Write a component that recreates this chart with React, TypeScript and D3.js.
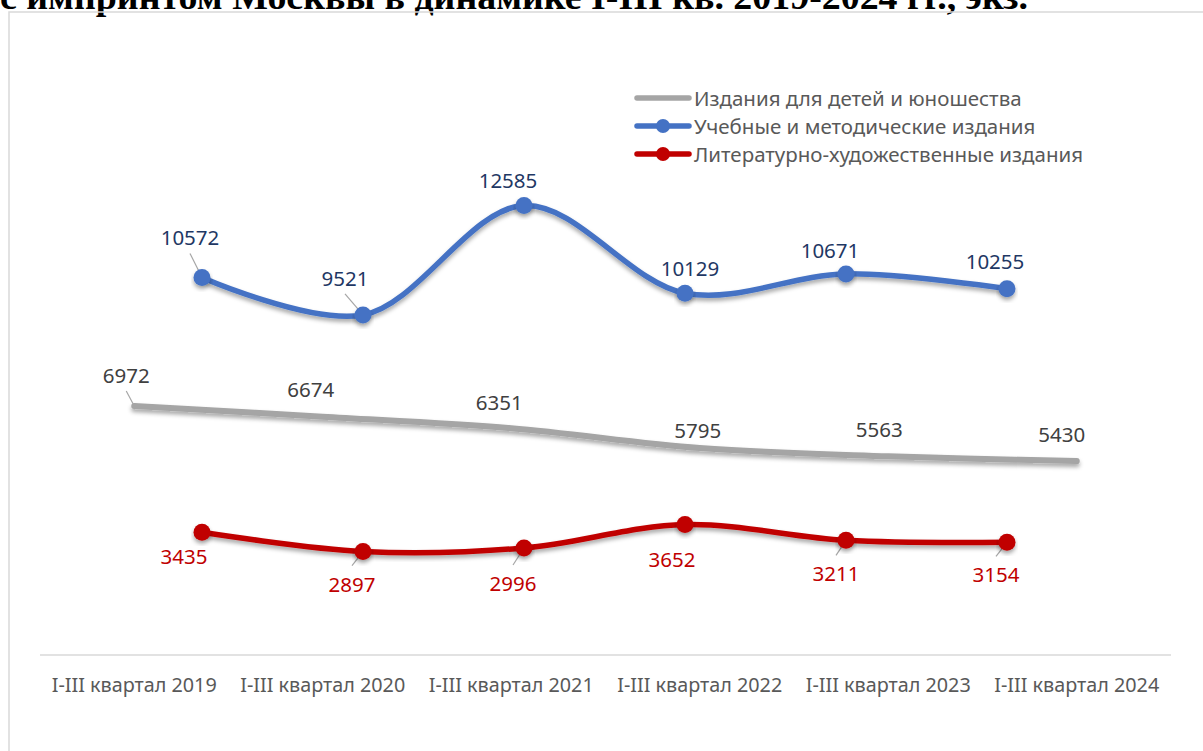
import React, { useEffect, useRef } from 'react';
import * as d3 from 'd3';

// categories and series
const categories = [
  'I-III квартал 2019',
  'I-III квартал 2020',
  'I-III квартал 2021',
  'I-III квартал 2022',
  'I-III квартал 2023',
  'I-III квартал 2024',
];
const childrenBooks = [6972, 6674, 6351, 5795, 5563, 5430];
const educationalBooks = [10572, 9521, 12585, 10129, 10671, 10255];
const fictionBooks = [3435, 2897, 2996, 3652, 3211, 3154];

const seriesNames = [
  'Издания для детей и юношества',
  'Учебные и методические издания',
  'Литературно-художественные издания',
];

const titleText = 'с импринтом Москвы в динамике I-III кв. 2019-2024 гг., экз.';

// label placement relative to its point: [dx, dy of baseline]
const childrenLabelOffsets = [[-8, -23], [-12, -20], [-12, -18], [-2, -10], [-9, -19], [-15, -19]];
const educationalLabelOffsets = [[-12, -32], [-18, -29], [-16, -18], [5, -17], [-16, -16], [-12, -20]];
const fictionLabelOffsets = [[-18, 32], [-11, 40], [-11, 43], [-13, 42], [-10, 41], [-11, 40]];
// which labels have a leader line
const childrenLeaders = [true, false, false, false, false, false];
const educationalLeaders = [true, true, false, false, false, false];
const fictionLeaders = [false, true, true, false, true, true];

export default function App() {
  const svgRef = useRef<SVGSVGElement | null>(null);

  useEffect(() => {
    const width = 1203;
    const height = 751;
    const font = "'Noto Sans', 'Open Sans', sans-serif";

    const svg = d3.select(svgRef.current).attr('width', width).attr('height', height);
    svg.selectAll('*').remove();

    const defs = svg.append('defs');
    defs.append('filter')
      .attr('id', 'shadow')
      .attr('x', '-10%').attr('y', '-30%').attr('width', '120%').attr('height', '160%')
      .append('feDropShadow')
      .attr('dx', 0).attr('dy', 3).attr('stdDeviation', 2)
      .attr('flood-color', '#000').attr('flood-opacity', 0.35);

    // title (cut by the top of the picture)
    svg.append('text')
      .attr('x', 0)
      .attr('y', 9)
      .attr('font-family', "'Liberation Serif', 'Times New Roman', serif")
      .attr('font-weight', 'bold')
      .attr('font-size', 35)
      .attr('textLength', 1028)
      .attr('lengthAdjust', 'spacingAndGlyphs')
      .attr('fill', '#000')
      .text(titleText);

    // chart frame
    svg.append('rect')
      .attr('x', 9).attr('y', 12)
      .attr('width', 1220).attr('height', 760)
      .attr('fill', 'none')
      .attr('stroke', '#d9d9d9')
      .attr('stroke-width', 1.5);

    const y = d3.scaleLinear().domain([0, 14000]).range([655, 155]);
    const xMain = d3.scaleBand().domain(categories).range([40, 1171]);
    const xSecond = d3.scaleBand().domain(categories).range([121.5, 1087.5]);
    const cx = (s: d3.ScaleBand<string>, c: string) => (s(c) as number) + s.bandwidth() / 2;

    // category axis
    svg.append('line')
      .attr('x1', 40).attr('x2', 1171)
      .attr('y1', y(0)).attr('y2', y(0))
      .attr('stroke', '#d9d9d9').attr('stroke-width', 1.5);

    svg.append('g')
      .selectAll('text')
      .data(categories)
      .join('text')
      .attr('x', (d) => cx(xMain, d))
      .attr('y', 692)
      .attr('text-anchor', 'middle')
      .attr('font-family', font)
      .attr('font-size', 19.8)
      .attr('fill', '#595959')
      .text((d) => d);

    const series = [
      { values: childrenBooks, scale: xMain, color: '#a5a5a5', labelColor: '#404040', offsets: childrenLabelOffsets, leaders: childrenLeaders, markers: false, width: 6 },
      { values: educationalBooks, scale: xSecond, color: '#4472c4', labelColor: '#1f3864', offsets: educationalLabelOffsets, leaders: educationalLeaders, markers: true, width: 5.5 },
      { values: fictionBooks, scale: xSecond, color: '#c00000', labelColor: '#c00000', offsets: fictionLabelOffsets, leaders: fictionLeaders, markers: true, width: 5.5 },
    ];

    series.forEach((s) => {
      const pts: [number, number][] = s.values.map((v, i) => [cx(s.scale, categories[i]), y(v)]);

      // leader lines
      const g = svg.append('g');
      pts.forEach(([px, py], i) => {
        if (!s.leaders[i]) return;
        const [dx, dy] = s.offsets[i];
        const sx = px + dx;
        const sy = dy < 0 ? py + dy + 8 : py + dy - 26;
        g.append('line')
          .attr('x1', sx).attr('y1', sy)
          .attr('x2', px).attr('y2', py)
          .attr('stroke', '#a6a6a6').attr('stroke-width', 1.2);
      });

      const line = d3.line().curve(d3.curveCatmullRom.alpha(0.5));
      svg.append('path')
        .attr('d', line(pts))
        .attr('fill', 'none')
        .attr('stroke', s.color)
        .attr('stroke-width', s.width)
        .attr('stroke-linecap', 'round')
        .attr('filter', 'url(#shadow)');

      if (s.markers) {
        svg.append('g')
          .selectAll('circle')
          .data(pts)
          .join('circle')
          .attr('cx', (d) => d[0])
          .attr('cy', (d) => d[1])
          .attr('r', 8.5)
          .attr('fill', s.color)
          .attr('filter', 'url(#shadow)');
      }

      svg.append('g')
        .selectAll('text')
        .data(s.values)
        .join('text')
        .attr('x', (d, i) => pts[i][0] + s.offsets[i][0])
        .attr('y', (d, i) => pts[i][1] + s.offsets[i][1])
        .attr('text-anchor', 'middle')
        .attr('font-family', font)
        .attr('font-size', 20.5)
        .attr('fill', s.labelColor)
        .text((d) => String(d));
    });

    // legend
    const legend = svg.append('g');
    seriesNames.forEach((name, i) => {
      const s = series[i];
      const ly = 98 + i * 28;
      legend.append('line')
        .attr('x1', 637).attr('x2', 689)
        .attr('y1', ly).attr('y2', ly)
        .attr('stroke', s.color)
        .attr('stroke-width', 5.5)
        .attr('stroke-linecap', 'round');
      if (s.markers) {
        legend.append('circle')
          .attr('cx', 663).attr('cy', ly).attr('r', 7)
          .attr('fill', s.color);
      }
      legend.append('text')
        .attr('x', 694)
        .attr('y', ly + 8)
        .attr('font-family', font)
        .attr('font-size', 20.5)
        .attr('fill', '#595959')
        .text(name);
    });
  }, []);

  return (
    <div style={{ position: 'absolute', left: 0, top: 0 }}>
      <svg ref={svgRef} style={{ display: 'block' }} />
    </div>
  );
}
